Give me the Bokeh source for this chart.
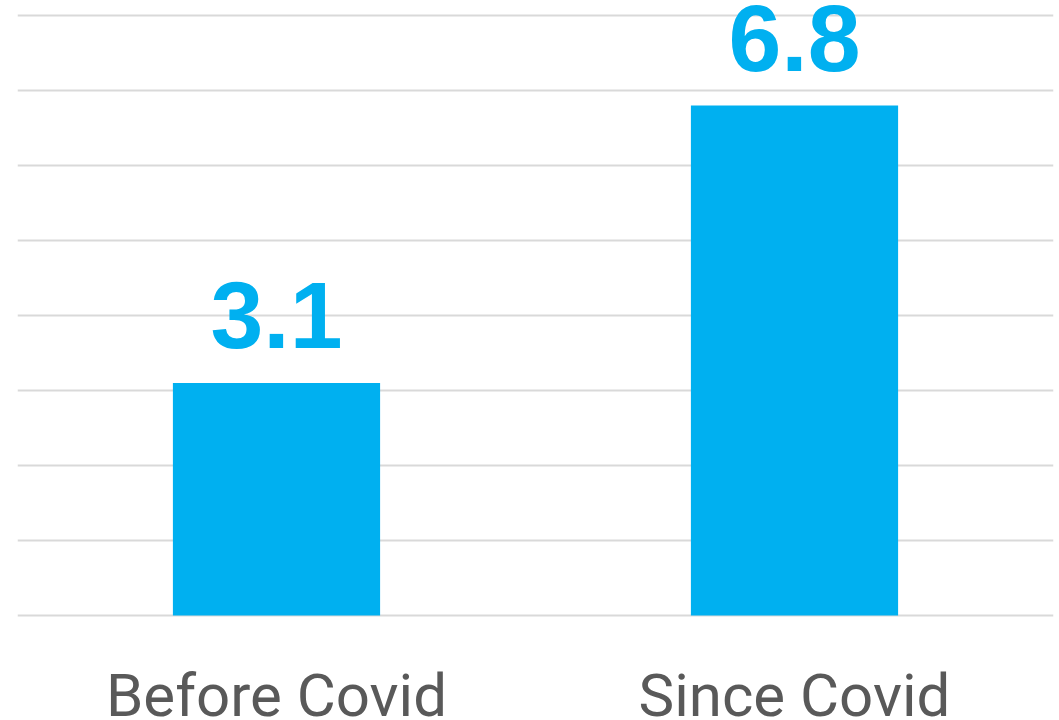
from bokeh.plotting import figure
from bokeh.models import ColumnDataSource, FactorRange, Range1d, FixedTicker
from bokeh.core.properties import value
from bokeh.embed import file_html
from bokeh.resources import INLINE

categories = ["Before Covid", "Since Covid"]
values = [3.1, 6.8]
labels = ["3.1", "6.8"]
y_ticks = [0, 1, 2, 3, 4, 5, 6, 7, 8]

PX = 1 / 75.0  # data units per pixel (600 px frame for 0..8)
label_pad = 68 * PX
cat_label_y = -80 * PX

src = ColumnDataSource(dict(cat=categories, val=values, lab=labels,
                            ly=[v + label_pad for v in values],
                            cy=[cat_label_y] * len(categories)))

p = figure(width=1059, height=720, output_backend="svg", toolbar_location=None,
           x_range=FactorRange(*categories, range_padding=0),
           y_range=Range1d(-105 * PX, 8 + 15 * PX),
           min_border_left=17, min_border_right=6, min_border_top=0, min_border_bottom=0)
p.outline_line_color = None
p.background_fill_color = "white"
p.border_fill_color = "white"
p.xaxis.visible = False
p.yaxis.visible = False

p.ygrid.ticker = FixedTicker(ticks=y_ticks)
p.ygrid.grid_line_color = "#d9d9d9"
p.ygrid.grid_line_width = 2
p.xgrid.grid_line_color = None

p.vbar(x="cat", top="val", bottom=0, width=0.4, source=src, fill_color="#00B0F0", line_color=None)
p.text(x="cat", y="ly", text="lab", source=src, text_align="center", text_baseline="alphabetic",
       text_font=value("Liberation Sans"), text_font_style="bold",
       text_font_size="95px", text_color="#00B0F0")
p.text(x="cat", y="cy", text="cat", source=src, text_align="center", text_baseline="alphabetic",
       text_font=value("Roboto"), text_font_size="60px", text_color="#595959")

open("out.html", "w").write(file_html(p, INLINE))
